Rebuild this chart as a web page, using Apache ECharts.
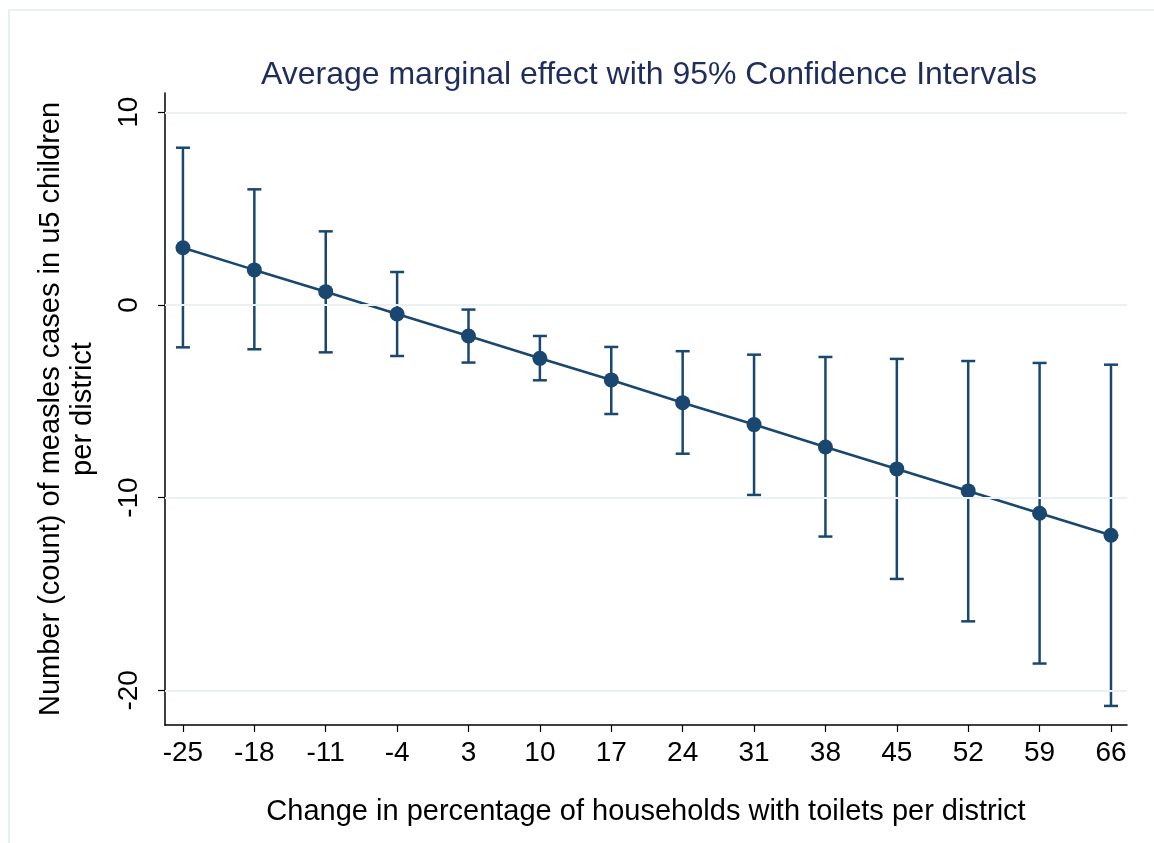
<!DOCTYPE html>
<html>
<head>
<meta charset="utf-8">
<script src="https://cdn.jsdelivr.net/npm/echarts@6/dist/echarts.min.js"></script>
<style>
  html, body { margin: 0; padding: 0; background: #fff; }
  #chart { width: 1154px; height: 843px; }
</style>
</head>
<body>
<div id="chart"></div>
<script>
// change in % of households with toilets (x positions)
const xValues = [-25, -18, -11, -4, 3, 10, 17, 24, 31, 38, 45, 52, 59, 66];
// average marginal effect
const estimate = [2.97, 1.82, 0.69, -0.47, -1.61, -2.77, -3.89, -5.07, -6.21, -7.37, -8.51, -9.65, -10.81, -11.95];
// 95% CI bounds
const upper = [8.16, 6.00, 3.82, 1.71, -0.24, -1.61, -2.18, -2.40, -2.58, -2.70, -2.80, -2.91, -3.01, -3.10];
const lower = [-2.20, -2.30, -2.46, -2.65, -2.99, -3.91, -5.66, -7.72, -9.86, -12.02, -14.22, -16.42, -18.61, -20.81];
const yTicks = [-20, -10, 0, 10];

const navy = '#1a476f';
const font = 'Liberation Sans, Arial, Helvetica, sans-serif';

const chart = echarts.init(document.getElementById('chart'));

const pointData = xValues.map((x, i) => [x, estimate[i]]);
const ciData = xValues.map((x, i) => [x, lower[i], upper[i]]);

const option = {
    backgroundColor: '#fff',
    animation: false,
    graphic: [{
        type: 'rect',
        shape: { x: 9, y: 10, width: 1200, height: 900 },
        style: { fill: 'none', stroke: '#e8eff2', lineWidth: 2 },
        silent: true
    }],
    title: {
        text: 'Average marginal effect with 95% Confidence Intervals',
        left: 644,
        textAlign: 'center',
        top: 54,
        textStyle: { fontFamily: font, fontSize: 32, fontWeight: 'normal', color: '#1f2d5c' }
    },
    grid: { left: 165, right: 27, top: 93, bottom: 118 },
    xAxis: {
        type: 'value',
        min: -26.76,
        max: 67.57,
        name: 'Change in percentage of households with toilets per district',
        nameLocation: 'middle',
        nameGap: 72,
        nameTextStyle: { fontFamily: font, fontSize: 29, color: '#000' },
        axisLine: { show: true, onZero: false, lineStyle: { color: '#000', width: 1.5 } },
        axisTick: { show: true, length: 7, customValues: xValues, lineStyle: { color: '#000', width: 1.2 } },
        axisLabel: { customValues: xValues, margin: 14, fontFamily: font, fontSize: 28, color: '#000' },
        splitLine: { show: false }
    },
    yAxis: {
        type: 'value',
        min: -21.8,
        max: 11.0,
        name: 'Number (count) of measles cases in u5 children\nper district',
        nameLocation: 'middle',
        nameRotate: 90,
        nameGap: 66,
        nameTextStyle: { fontFamily: font, fontSize: 29, color: '#000', lineHeight: 32 },
        axisLine: { show: true, onZero: false, lineStyle: { color: '#000', width: 1.5 } },
        axisTick: { show: true, length: 7, customValues: yTicks, lineStyle: { color: '#000', width: 1.2 } },
        axisLabel: { customValues: yTicks, rotate: 90, margin: 22, fontFamily: font, fontSize: 28, color: '#000' },
        splitLine: { show: false }
    },
    series: [
        {
            // gridlines at the y ticks
            type: 'line',
            data: [],
            silent: true,
            markLine: {
                silent: true,
                symbol: 'none',
                label: { show: false },
                lineStyle: { color: '#e9f1f3', width: 2, type: 'solid' },
                data: yTicks.map(v => ({ yAxis: v }))
            },
            z: 1
        },
        {
            type: 'custom',
            data: ciData,
            z: 3,
            renderItem: (params, api) => {
                const x = api.value(0);
                const lo = api.coord([x, api.value(1)]);
                const hi = api.coord([x, api.value(2)]);
                const cap = 7;
                const style = { stroke: navy, lineWidth: 2.5 };
                return {
                    type: 'group',
                    children: [
                        { type: 'line', shape: { x1: lo[0], y1: lo[1], x2: hi[0], y2: hi[1] }, style },
                        { type: 'line', shape: { x1: lo[0] - cap, y1: lo[1], x2: lo[0] + cap, y2: lo[1] }, style },
                        { type: 'line', shape: { x1: hi[0] - cap, y1: hi[1], x2: hi[0] + cap, y2: hi[1] }, style }
                    ]
                };
            }
        },
        {
            type: 'line',
            data: pointData,
            symbol: 'circle',
            symbolSize: 15,
            z: 4,
            lineStyle: { color: navy, width: 2.6 },
            itemStyle: { color: navy }
        }
    ]
};

chart.setOption(option);
</script>
</body>
</html>
